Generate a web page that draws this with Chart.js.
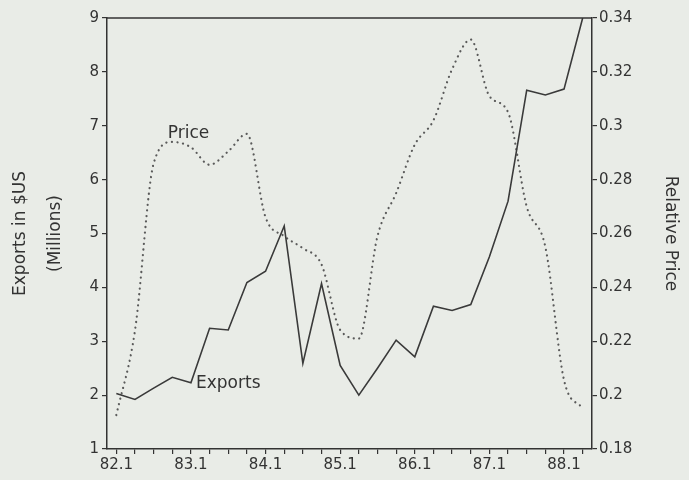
<!DOCTYPE html>
<html>
<head>
<meta charset="utf-8">
<script src="https://cdn.jsdelivr.net/npm/chart.js@4"></script>
<style>
  body { margin: 0; background: #e9ece7; }
  #chart { display: block; }
</style>
</head>
<body>
<canvas id="chart" width="689" height="480"></canvas>
<script>
// quarterly observations 82.1 .. 88.2
const quarters = [
  "82.1", "82.2", "82.3", "82.4",
  "83.1", "83.2", "83.3", "83.4",
  "84.1", "84.2", "84.3", "84.4",
  "85.1", "85.2", "85.3", "85.4",
  "86.1", "86.2", "86.3", "86.4",
  "87.1", "87.2", "87.3", "87.4",
  "88.1", "88.2"
];

// exports in $US millions (left axis)
const exportsVals = [
  2.03, 1.92, 2.13, 2.33,
  2.23, 3.24, 3.21, 4.09,
  4.3, 5.14, 2.59, 4.07,
  2.55, 2.0, 2.5, 3.02,
  2.71, 3.65, 3.57, 3.68,
  4.57, 5.6, 7.66, 7.57,
  7.68, 9.0
];

// relative price (right axis)
const priceVals = [
  0.1926, 0.224, 0.286, 0.294,
  0.292, 0.2855, 0.2905, 0.297,
  0.266, 0.259, 0.2545, 0.2485,
  0.2242, 0.221, 0.259, 0.275,
  0.293, 0.302, 0.321, 0.332,
  0.311, 0.305, 0.27, 0.255,
  0.2056, 0.195
];

const leftTicks = [1, 2, 3, 4, 5, 6, 7, 8, 9];
const rightTicks = [0.18, 0.2, 0.22, 0.24, 0.26, 0.28, 0.3, 0.32, 0.34];

const ink = "#333";
const font = "'DejaVu Sans', sans-serif";

// in-chart series names, placed in data units
const seriesNotes = [
  { text: "Price", x: 2.76, y: 0.297, axis: "y1" },
  { text: "Exports", x: 4.27, y: 2.21, axis: "y" }
];

const notesPlugin = {
  id: "notes",
  afterDatasetsDraw(chart) {
    const { ctx, chartArea, scales } = chart;
    ctx.save();
    // frame top
    ctx.strokeStyle = ink;
    ctx.lineWidth = 1.5;
    ctx.beginPath();
    ctx.moveTo(chartArea.left, chartArea.top);
    ctx.lineTo(chartArea.right, chartArea.top);
    ctx.stroke();

    ctx.fillStyle = ink;
    ctx.font = "17px " + font;
    ctx.textAlign = "left";
    ctx.textBaseline = "middle";
    seriesNotes.forEach(n => {
      const px = scales.x.getPixelForValue(n.x);
      const py = scales[n.axis].getPixelForValue(n.y);
      ctx.fillText(n.text, px, py);
    });
    ctx.restore();
  }
};

const gridStyle = {
  drawOnChartArea: false,
  drawTicks: true,
  tickLength: 5,
  color: ink,
  lineWidth: 1.2
};

new Chart(document.getElementById("chart"), {
  type: "line",
  data: {
    labels: quarters,
    datasets: [
      {
        label: "Exports",
        data: exportsVals,
        yAxisID: "y",
        borderColor: "#3a3a3a",
        borderWidth: 1.6,
        pointRadius: 0,
        tension: 0
      },
      {
        label: "Price",
        data: priceVals,
        yAxisID: "y1",
        borderColor: "#5a5a5a",
        borderWidth: 2.2,
        borderDash: [0.1, 5.5],
        borderCapStyle: "round",
        pointRadius: 0,
        cubicInterpolationMode: "monotone"
      }
    ]
  },
  options: {
    responsive: false,
    animation: false,
    layout: { padding: { top: 18, left: 0, right: 0, bottom: 0 } },
    plugins: {
      legend: { display: false },
      tooltip: { enabled: false }
    },
    scales: {
      x: {
        type: "category",
        offset: true,
        grid: { ...gridStyle, offset: false },
        border: { color: ink, width: 1.5 },
        ticks: {
          autoSkip: false,
          maxRotation: 0,
          padding: 2,
          color: ink,
          font: { family: font, size: 15 },
          callback(value) {
            const lab = this.getLabelForValue(value);
            return lab.endsWith(".1") ? lab : "";
          }
        },
        afterFit(scale) { scale.height = 31; }
      },
      y: {
        position: "left",
        min: 1,
        max: 9,
        grid: gridStyle,
        border: { color: ink, width: 1.5 },
        afterBuildTicks(scale) { scale.ticks = leftTicks.map(v => ({ value: v })); },
        ticks: {
          padding: 3,
          color: ink,
          font: { family: font, size: 15 }
        },
        title: {
          display: true,
          text: ["Exports in $US", "(Millions)"],
          color: ink,
          font: { family: font, size: 17, lineHeight: 2.06 },
          padding: { top: 3, bottom: 0 }
        },
        afterFit(scale) { scale.width = 107; }
      },
      y1: {
        position: "right",
        min: 0.18,
        max: 0.34,
        grid: gridStyle,
        border: { color: ink, width: 1.5 },
        afterBuildTicks(scale) { scale.ticks = rightTicks.map(v => ({ value: v })); },
        ticks: {
          padding: 2,
          color: ink,
          font: { family: font, size: 15 },
          callback(v) { return String(parseFloat(v.toFixed(2))); }
        },
        title: {
          display: true,
          text: "Relative Price",
          color: ink,
          font: { family: font, size: 17 },
          padding: { top: 8, bottom: 0 }
        },
        afterFit(scale) { scale.width = 97; }
      }
    }
  },
  plugins: [notesPlugin]
});
</script>
</body>
</html>
